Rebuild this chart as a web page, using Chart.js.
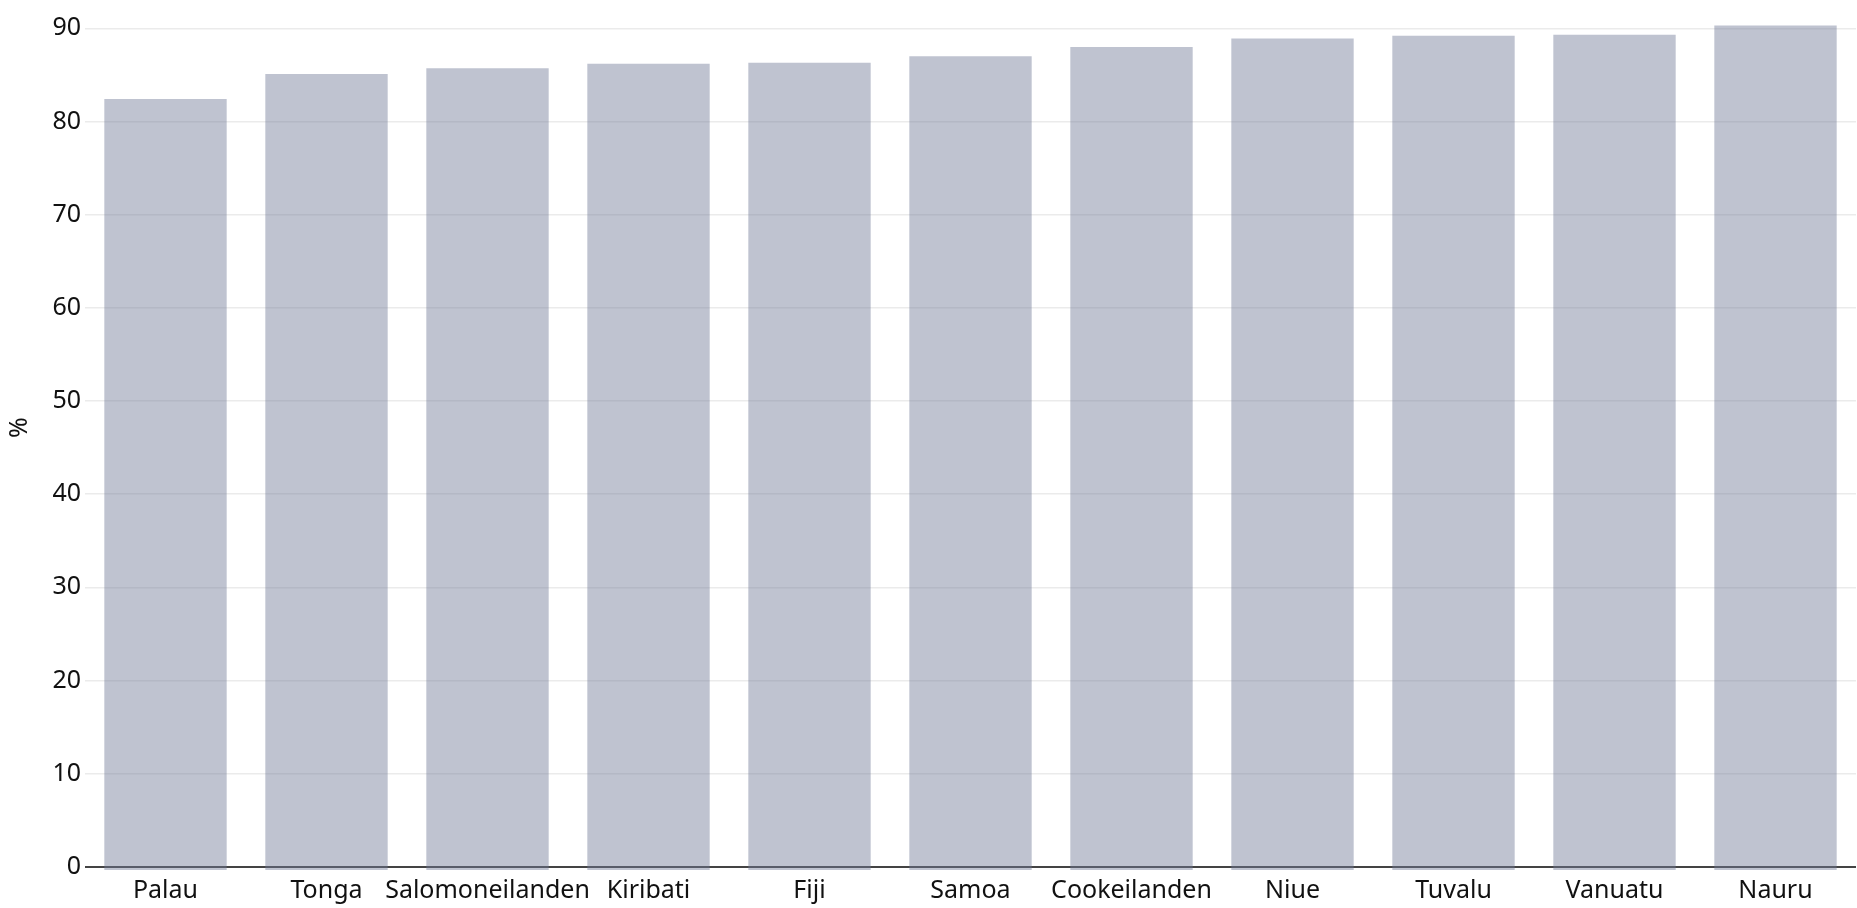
<!DOCTYPE html>
<html>
<head>
<meta charset="utf-8">
<script src="https://cdn.jsdelivr.net/npm/chart.js@4/dist/chart.umd.min.js"></script>
<style>
  html, body { margin: 0; padding: 0; background: #fff; }
  #wrap { width: 1857px; height: 908px; position: relative; }
</style>
</head>
<body>
<div id="wrap"><canvas id="c"></canvas></div>
<script>
const categories = ["Palau", "Tonga", "Salomoneilanden", "Kiribati", "Fiji", "Samoa", "Cookeilanden", "Niue", "Tuvalu", "Vanuatu", "Nauru"];
const values = [82.4, 85.1, 85.7, 86.2, 86.3, 87.0, 88.0, 88.9, 89.2, 89.3, 90.3];
const yTickValues = [0, 10, 20, 30, 40, 50, 60, 70, 80, 90];
const yAxisTitle = "%";

const FONT = "'Noto Sans', 'Open Sans', sans-serif";

const yTitlePlugin = {
  id: 'yTitle',
  afterDraw(chart) {
    const ctx = chart.ctx, a = chart.chartArea;
    ctx.save();
    ctx.translate(20, (a.top + a.bottom) / 2 - 17);
    ctx.rotate(-Math.PI / 2);
    ctx.font = "25px " + FONT;
    ctx.fillStyle = '#111';
    ctx.textAlign = 'center';
    ctx.textBaseline = 'middle';
    ctx.fillText(yAxisTitle, 0, 0);
    ctx.restore();
  }
};

new Chart(document.getElementById('c'), {
  type: 'bar',
  data: {
    labels: categories,
    datasets: [{
      data: values,
      base: -0.35,
      backgroundColor: 'rgba(113,122,151,0.45)',
      borderWidth: 0,
      barPercentage: 0.76,
      categoryPercentage: 1.0
    }]
  },
  options: {
    responsive: true,
    maintainAspectRatio: false,
    animation: false,
    layout: { padding: { top: 14.6, right: 1, left: 0, bottom: 0 } },
    plugins: { legend: { display: false }, tooltip: { enabled: false } },
    scales: {
      x: {
        grid: { display: false, drawTicks: false },
        border: { display: false },
        ticks: { color: '#111', font: { family: FONT, size: 25 }, padding: 6, maxRotation: 0, autoSkip: false },
        afterFit: (s) => { s.height = 38; }
      },
      y: {
        min: -0.35,
        max: 91,
        afterBuildTicks: (s) => { s.ticks = yTickValues.map(v => ({ value: v })); },
        grid: {
          drawTicks: false,
          color: (ctx) => (ctx.tick && ctx.tick.value === 0) ? '#444' : '#ebebeb',
          lineWidth: (ctx) => (ctx.tick && ctx.tick.value === 0) ? 2 : 1.5
        },
        border: { display: false },
        ticks: { color: '#111', font: { family: FONT, size: 25 }, padding: 4 },
        afterFit: (s) => { s.width = 85; }
      }
    }
  },
  plugins: [yTitlePlugin]
});
</script>
</body>
</html>
